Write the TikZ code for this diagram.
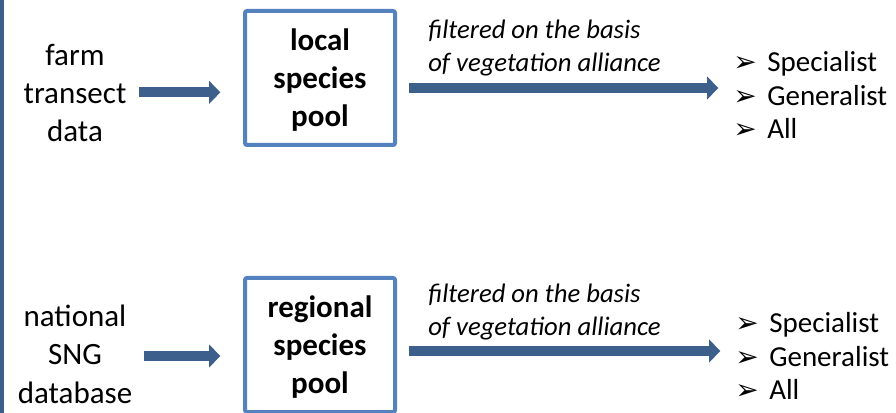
\documentclass[tikz,border=0pt]{standalone}
\usepackage{fontspec}
\setmainfont{Carlito}
\newfontfamily\dejavu{DejaVu Sans}
\usetikzlibrary{positioning}
\usetikzlibrary{calc}
\usetikzlibrary{arrows.meta}
\definecolor{arrowblue}{RGB}{60,95,140}
\definecolor{boxblue}{RGB}{84,130,190}
\newcommand\listmark{\makebox[25.5pt][l]{\raisebox{0pt}{\dejavu\fontsize{21}{21}\selectfont\char"27A2}}}
\tikzset{
    % Broad filled arrows between the stages
    flow arrow/.style={
        draw=arrowblue, line width=7.5pt,
        -{Triangle[length=8.5pt, width=17pt]}},
%
    % The framed species pools
    pool box/.style={
        draw=boxblue, line width=3pt, rounded corners=1.5pt, fill=white,
        minimum width=112.5pt, minimum height=100.5pt, inner sep=0,
        text depth=-2pt,
        align=center, font=\fontsize{23.25}{28.5}\selectfont\bfseries},
%
    % Plain source text on the left
    source text/.style={
        inner sep=0, align=center, font=\fontsize{23.25}{28.8}\selectfont},
%
    % Italic note above the long arrows
    filter note/.style={
        inner sep=0, align=left, anchor=west,
        font=\fontsize{20}{24.5}\selectfont\itshape},
%
    % The resulting subsets
    subset list/.style={
        inner sep=0, align=left, anchor=west,
        font=\fontsize{21.75}{25}\selectfont}}

\begin{document}
\begin{tikzpicture}[x=0.75pt, y=-0.75pt]
\useasboundingbox (0,0) rectangle (896,413);

% Rule down the left edge
\draw[arrowblue, line width=3pt] (2,0) -- (2,413);

% Local pool, from the farm transects
\path
    node[source text] (farm) at (75,93) {farm\\transect\\data}
    node[pool box] (local pool) at (320,78) {local\\species\\pool}
    node[filter note] (local note) at (428,48)
        {filtered on the basis\\of vegetation alliance}
    node[subset list] (local sets) at (733,95)
        {\listmark Specialist\\\listmark Generalist\\\listmark All};

\coordinate (local out) at ([shift={(12,10)}]local pool.east);
\draw[flow arrow, shorten <=9pt, shorten >=17pt]
    ([yshift=0.5pt]farm.east) -- ([yshift=0.5pt]farm.east -| local pool.west);
\draw[flow arrow, shorten >=11pt]
    (local out) -- (local out -| local sets.west);

% Regional pool, from the national database
\path
    node[source text] (national) at (75,354) {national\\SNG\\database}
    node[pool box] (regional pool) at (320,345) {regional\\species\\pool}
    node[filter note] (regional note) at (428,312)
        {filtered on the basis\\of vegetation alliance}
    node[subset list] (regional sets) at (735,356)
        {\listmark Specialist\\\listmark Generalist\\\listmark All};

\coordinate (regional out) at ([shift={(12,6)}]regional pool.east);
\draw[flow arrow, shorten <=9pt, shorten >=17pt]
    ([yshift=-1.5pt]national.east) -- ([yshift=-1.5pt]national.east -| regional pool.west);
\draw[flow arrow, shorten >=11pt]
    (regional out) -- (regional out -| regional sets.west);

\end{tikzpicture}
\end{document}
